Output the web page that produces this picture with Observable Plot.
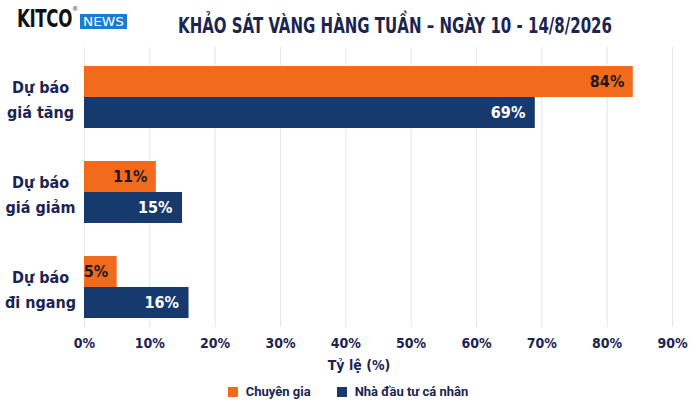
<!DOCTYPE html>
<html>
<head>
<meta charset="utf-8">
<script src="https://cdn.jsdelivr.net/npm/d3@7"></script>
<script src="https://cdn.jsdelivr.net/npm/@observablehq/plot@0.6"></script>
<style>
  body { margin: 0; background: #ffffff; width: 700px; height: 416px; overflow: hidden; position: relative;
         font-family: "DejaVu Sans Condensed", Roboto, sans-serif; }
  .fit { position: absolute; white-space: nowrap; transform-origin: 0 0; display: inline-block; }
  #kitco { left: 17px; top: 6px; font-weight: 700; font-size: 25px; color: #111; line-height: 26px; letter-spacing: -0.5px; }
  #reg { position: absolute; left: 72px; top: 5px; font-size: 7px; color: #444; }
  #news { position: absolute; left: 80px; top: 14px; width: 47px; height: 15px; background: #1f7ccc; }
  #newsText { left: 83px; top: 14px; color: #fff; font-size: 13px; line-height: 15px; font-weight: 400; }
  #title { left: 178px; top: 13px; font-weight: 700; font-size: 21px; color: #1c2550; line-height: 26px; }
  #xlabel { position: absolute; left: 0; width: 718px; top: 357px; text-align: center; font-weight: 700;
            font-size: 14px; color: #1b2452; }
  #legend { position: absolute; left: 0; width: 696px; top: 384px; display: flex; justify-content: center;
            align-items: center; font-family: Roboto, sans-serif; font-weight: 700; font-size: 13px; color: #1b2452; }
  .sw { width: 10px; height: 10px; display: inline-block; margin-right: 8px; }
  .item { display: flex; align-items: center; margin: 0 13px; }
  #chart { position: absolute; left: 0; top: 45px; }
</style>
</head>
<body>
<span id="kitco" class="fit">KITCO</span><span id="reg">®</span>
<div id="news"></div><span id="newsText" class="fit">NEWS</span>
<span id="title" class="fit">KHẢO SÁT VÀNG HÀNG TUẦN – NGÀY 10 - 14/8/2026</span>
<div id="chart"></div>
<div id="xlabel">Tỷ lệ (%)</div>
<div id="legend"></div>
<script>
const categories = ["Dự báo\ngiá tăng", "Dự báo\ngiá giảm", "Dự báo\nđi ngang"];
const expertValues = [84, 11, 5];
const investorValues = [69, 15, 16];
const seriesNames = ["Chuyên gia", "Nhà đầu tư cá nhân"];
const seriesColors = ["#f26a1c", "#173a6e"];
const xTicks = [0, 10, 20, 30, 40, 50, 60, 70, 80, 90];

// fit header texts horizontally to the reference widths (condensed look)
function fitWidth(id, w) {
  const el = document.getElementById(id);
  const cur = el.getBoundingClientRect().width;
  el.style.transform = `scaleX(${w / cur})`;
}
fitWidth("kitco", 55);
fitWidth("newsText", 41);
fitWidth("title", 434);

const expert = categories.map((c, i) => ({category: c, value: expertValues[i]}));
const investor = categories.map((c, i) => ({category: c, value: investorValues[i]}));

const font = '"DejaVu Sans Condensed", Roboto, sans-serif';

const chart = Plot.plot({
  width: 700,
  height: 312,
  marginLeft: 84,
  marginRight: 28,
  marginTop: 2,
  marginBottom: 30,
  style: {fontFamily: font, background: "transparent"},
  x: {domain: [0, 90], ticks: xTicks},
  y: {domain: categories, paddingInner: 0.347, paddingOuter: 0.147, align: 0.68},
  marks: [
    Plot.ruleX(xTicks, {stroke: "#e6e6e6", strokeWidth: 1}),
    Plot.barX(expert, {x: "value", y: "category", fill: seriesColors[0], insetBottom: 31, insetTop: 0}),
    Plot.barX(investor, {x: "value", y: "category", fill: seriesColors[1], insetTop: 31, insetBottom: 0}),
    Plot.text(expert, {x: "value", y: "category", text: d => d.value + "%", dy: -15.5, dx: -9,
      textAnchor: "end", fill: "#1a1a22", fontSize: 16, fontWeight: 700}),
    Plot.text(investor, {x: "value", y: "category", text: d => d.value + "%", dy: 15.5, dx: -10,
      textAnchor: "end", fill: "#ffffff", fontSize: 16, fontWeight: 700}),
    Plot.axisX({ticks: xTicks, tickFormat: d => d + "%", tickSize: 0, tickPadding: 11, label: null,
      fontSize: 14, fontWeight: 700, fill: "#1b2452"}),
    Plot.axisY({tickSize: 0, tickPadding: 44, textAnchor: "middle", label: null, lineHeight: 1.55,
      fontSize: 16, fontWeight: 700, fill: "#1b2452"})
  ]
});
document.getElementById("chart").appendChild(chart);

const legend = document.getElementById("legend");
seriesNames.forEach((n, i) => {
  const item = document.createElement("div");
  item.className = "item";
  const sw = document.createElement("span");
  sw.className = "sw";
  sw.style.background = seriesColors[i];
  item.appendChild(sw);
  const t = document.createElement("span");
  t.textContent = n;
  item.appendChild(t);
  legend.appendChild(item);
});
</script>
</body>
</html>
